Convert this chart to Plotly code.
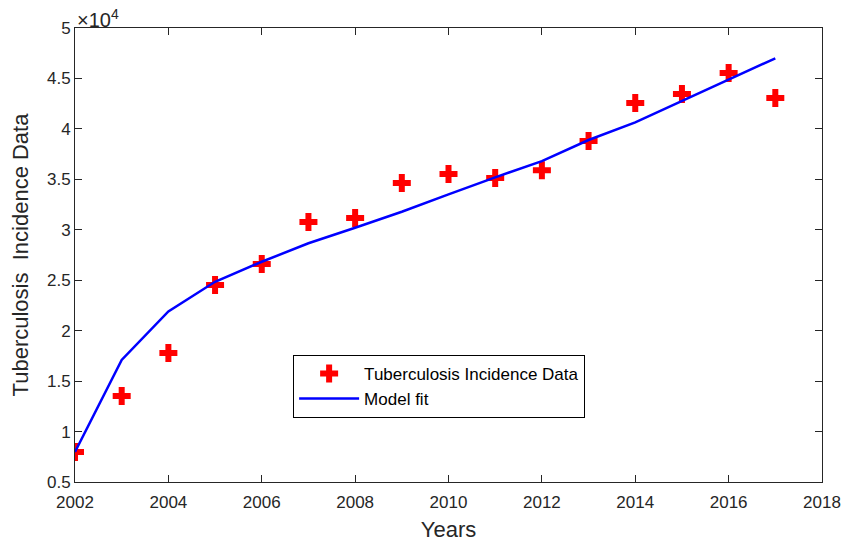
import plotly.graph_objects as go

years = list(range(2002, 2018))
incidence = [7970, 13520, 17780, 24520, 26600, 30770, 31160, 34630,
             35530, 35130, 35900, 38800, 42560, 43450, 45530, 43060]
model_fit = [7970, 17100, 21900, 24850, 26830, 28660, 30200, 31790,
             33510, 35200, 36800, 38900, 40650, 42760, 44900, 47000]

x_ticks = list(range(2002, 2019, 2))
y_tick_vals = [5000 * i for i in range(1, 11)]
y_tick_text = ["0.5", "1", "1.5", "2", "2.5", "3", "3.5", "4", "4.5", "5"]

axis_col = "#262626"
font_family = "Liberation Sans, Arial, sans-serif"

fig = go.Figure()
fig.add_trace(go.Scatter(
    x=years, y=incidence, mode="markers", name="Tuberculosis Incidence Data",
    marker=dict(symbol="cross", size=15, color="#ff0000", line=dict(width=0)),
))
fig.add_trace(go.Scatter(
    x=years, y=model_fit, mode="lines", name="Model fit",
    line=dict(color="#0000ff", width=2.5),
))

fig.update_layout(
    width=842, height=544,
    margin=dict(l=75, r=20, t=28, b=62),
    paper_bgcolor="white", plot_bgcolor="white",
    font=dict(family=font_family, size=18, color=axis_col),
    showlegend=True,
    legend=dict(
        x=0.292, y=0.28, xanchor="left", yanchor="top",
        bgcolor="white", bordercolor="#000000", borderwidth=1,
        font=dict(size=17, color="#000000"),
        tracegroupgap=0, itemwidth=60,
    ),
    xaxis=dict(
        range=[2002, 2018], tickvals=x_ticks, ticks="inside", ticklen=7,
        tickcolor=axis_col, showline=True, linecolor=axis_col, linewidth=1,
        mirror="ticks", showgrid=False, zeroline=False, automargin=False,
        ticklabelstandoff=5,
        title=dict(text="Years", font=dict(size=22, color=axis_col), standoff=10),
        tickfont=dict(size=17, color=axis_col),
    ),
    yaxis=dict(
        range=[5000, 50000], tickvals=y_tick_vals, ticktext=y_tick_text,
        ticks="inside", ticklen=7, tickcolor=axis_col, showline=True,
        linecolor=axis_col, linewidth=1, mirror="ticks", showgrid=False,
        zeroline=False, automargin=False,
        title=dict(text="Tuberculosis  Incidence Data",
                   font=dict(size=22, color=axis_col), standoff=12),
        tickfont=dict(size=17, color=axis_col),
    ),
    annotations=[dict(
        text="×10<sup>4</sup>", xref="paper", yref="paper", x=0, y=1,
        xanchor="left", yanchor="bottom", showarrow=False,
        font=dict(size=20, color=axis_col), yshift=-5,
    )],
)

fig.write_html("out.html")
